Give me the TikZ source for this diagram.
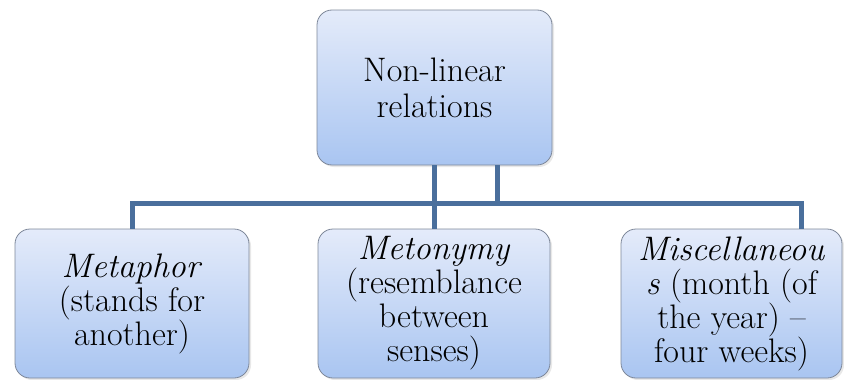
\documentclass[tikz,border=0pt]{standalone}
\usetikzlibrary{shadows}
\definecolor{boxtop}{HTML}{E4EBFA}
\definecolor{boxbot}{HTML}{A9C5F1}
\definecolor{boxline}{HTML}{7D8799}
\definecolor{linkblue}{HTML}{4A6F9C}

\begin{document}
\begin{tikzpicture}[x=1pt, y=-1pt,
    box/.style={rectangle, rounded corners=15pt, draw=boxline, line width=0.8pt,
      top color=boxtop, bottom color=boxbot, align=center, inner sep=2pt,
      drop shadow={opacity=0.18, shadow xshift=2pt, shadow yshift=-2pt}},
    leaf/.style={box, minimum height=149pt, font=\fontsize{34}{34}\selectfont},
    link/.style={draw=linkblue, line width=5pt, line join=miter}]
			\useasboundingbox (0,0) rectangle (844,380);
			\node[box, minimum width=235pt, minimum height=155pt,
			  font=\fontsize{34}{36}\selectfont] (top) at (434.5,87.5) {Non-linear\\relations};
			\node[leaf, minimum width=234pt] (left) at (132,303.5) {\textit{Metaphor}\\(stands for\\another)};
			\node[leaf, minimum width=232pt] (mid) at (434,303.5) {\textit{Metonymy}\\(resemblance\\between\\senses)};
			\node[leaf, minimum width=221pt] (right) at (731.5,303.5) {\textit{Miscellaneou}\\\textit{s} (month (of\\the year) --\\four weeks)};
			\coordinate (busL) at (132,203);
			\coordinate (busR) at (801,203);
			\coordinate (tap) at (497,203);
			\draw[link] (left.north) -- (busL) -- (busR) -- (busR |- right.north);
			\draw[link] (top.south) -- (top.south |- mid.north);
			\draw[link] (tap |- top.south) -- (tap);
		\end{tikzpicture}
\end{document}
